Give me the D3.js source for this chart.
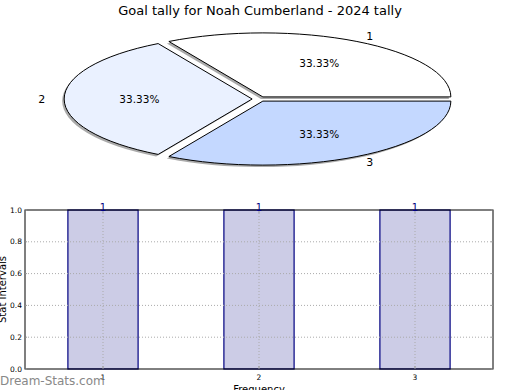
<!DOCTYPE html>
<html><head><meta charset="utf-8">
<script src="https://cdn.jsdelivr.net/npm/d3@7"></script>
<style>body{margin:0;background:#fff;}svg{display:block;font-family:"DejaVu Sans",sans-serif;}</style>
</head><body>
<svg id="c" width="520" height="390"></svg>
<script>
const title = "Goal tally for Noah Cumberland - 2024 tally";
const pieLabels = ["1", "2", "3"];
const pieValues = [1, 1, 1];
const pieColors = ["#ffffff", "#eaf1ff", "#c4d8ff"];
const barCategories = [1, 2, 3];
const barValues = [1, 1, 1];
const yTicks = [0, 0.2, 0.4, 0.6, 0.8, 1.0];
const xLabel = "Frequency";
const yLabel = "Stat Intervals";
const watermark = "Dream-Stats.com";

const svg = d3.select("#c");
svg.append("text").attr("x", 260).attr("y", 15).attr("text-anchor", "middle")
  .attr("font-size", 13).text(title);

// ---- Pie ----
const cx = 259.3, cy = 99, rx = 188, ry = 64, ex = 0.038;
const pie = d3.pie().sort(null).startAngle(Math.PI / 2).endAngle(Math.PI / 2 - 2 * Math.PI);
const arcs = pie(pieValues);
const arc = d3.arc().innerRadius(0).outerRadius(1);
const total = d3.sum(pieValues);
const pieG = svg.append("g");
arcs.forEach((a, i) => {
  const mid = (a.startAngle + a.endAngle) / 2;
  const ux = Math.sin(mid), uy = -Math.cos(mid);
  const ox = cx + ex * ux * rx, oy = cy + ex * uy * ry;
  pieG.append("path").attr("d", arc(a))
    .attr("transform", `translate(${ox - 2},${oy + 2}) scale(${rx},${ry})`)
    .attr("fill", "#555").attr("opacity", 0.5);
});
arcs.forEach((a, i) => {
  const mid = (a.startAngle + a.endAngle) / 2;
  const ux = Math.sin(mid), uy = -Math.cos(mid);
  const ox = cx + ex * ux * rx, oy = cy + ex * uy * ry;
  pieG.append("path").attr("d", arc(a))
    .attr("transform", `translate(${ox},${oy}) scale(${rx},${ry})`)
    .attr("fill", pieColors[i]).attr("stroke", "#000").attr("stroke-width", 1)
    .attr("vector-effect", "non-scaling-stroke");
  const lx = ox + 1.1 * ux * rx, ly = oy + 1.1 * uy * ry;
  pieG.append("text").attr("x", lx).attr("y", ly).attr("dy", "0.35em")
    .attr("text-anchor", ux > 0.01 ? "start" : "end").attr("font-size", 11).text(pieLabels[i]);
  const px = ox + 0.6 * ux * rx, py = oy + 0.6 * uy * ry;
  pieG.append("text").attr("x", px).attr("y", py).attr("dy", "0.35em")
    .attr("text-anchor", "middle").attr("font-size", 10.5)
    .text((pieValues[i] / total * 100).toFixed(2) + "%");
});

// ---- Bars ----
const L = 25, R = 493, T = 210, B = 369;
const x = d3.scaleLinear().domain([0.5, 3.5]).range([L, R]);
const y = d3.scaleLinear().domain([0, 1]).range([B, T]);
const bw = 0.45;
const g = svg.append("g");
barCategories.forEach((c, i) => {
  g.append("rect").attr("x", x(c - bw / 2)).attr("y", y(barValues[i]))
    .attr("width", x(c + bw / 2) - x(c - bw / 2)).attr("height", y(0) - y(barValues[i]))
    .attr("fill", "#ccccе6".replace("е","e")).attr("stroke", "#000080").attr("stroke-width", 1.2);
});
yTicks.slice(1, -1).forEach(t => {
  g.append("line").attr("x1", L).attr("x2", R).attr("y1", y(t)).attr("y2", y(t))
    .attr("stroke", "#aaa").attr("stroke-dasharray", "1,2");
});
barCategories.forEach(c => {
  g.append("line").attr("x1", x(c)).attr("x2", x(c)).attr("y1", T).attr("y2", B)
    .attr("stroke", "#aaa").attr("stroke-dasharray", "1,2");
});
g.append("rect").attr("x", L).attr("y", T).attr("width", R - L).attr("height", B - T)
  .attr("fill", "none").attr("stroke", "#000").attr("stroke-width", 1);
yTicks.forEach(t => {
  g.append("line").attr("x1", L).attr("x2", L + 2).attr("y1", y(t)).attr("y2", y(t)).attr("stroke", "#999");
  g.append("line").attr("x1", R - 2).attr("x2", R).attr("y1", y(t)).attr("y2", y(t)).attr("stroke", "#999");
  g.append("text").attr("x", L - 3).attr("y", y(t)).attr("dy", "0.35em").attr("text-anchor", "end")
    .attr("font-size", 7.5).attr("fill", "#000").text(t.toFixed(1));
});
barCategories.forEach(c => {
  g.append("line").attr("x1", x(c)).attr("x2", x(c)).attr("y1", B).attr("y2", B - 3).attr("stroke", "#999");
  g.append("line").attr("x1", x(c)).attr("x2", x(c)).attr("y1", T).attr("y2", T + 3).attr("stroke", "#999");
  g.append("text").attr("x", x(c)).attr("y", B + 11).attr("text-anchor", "middle")
    .attr("font-size", 7.5).attr("fill", "#000").text(c);
});
barCategories.forEach((c, i) => {
  g.append("text").attr("x", x(c)).attr("y", y(barValues[i]) + 1).attr("text-anchor", "middle")
    .attr("font-size", 10).attr("fill", "#000080").text(barValues[i]);
});
svg.append("text").attr("x", x(2)).attr("y", 393).attr("text-anchor", "middle")
  .attr("font-size", 10).text(xLabel);
svg.append("text").attr("transform", `translate(6,${(T + B) / 2}) rotate(-90)`)
  .attr("text-anchor", "middle").attr("font-size", 10).text(yLabel);
svg.append("text").attr("x", 0).attr("y", 385).attr("font-size", 12).attr("fill", "#888")
  .text(watermark);
</script>
</body></html>
